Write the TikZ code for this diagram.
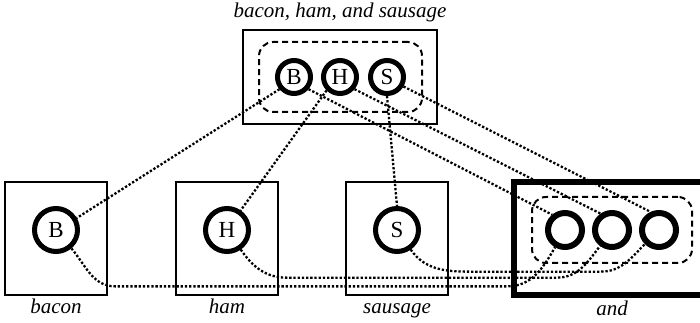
\documentclass[tikz,border=0pt]{standalone}
\usepackage{fontspec}
\setmainfont{Liberation Serif}
\usetikzlibrary{positioning,fit}
\tikzset{
  wordbox/.style ={draw,line width=2pt,inner sep=0pt},
  itembox/.style ={wordbox,minimum width=102pt,minimum height=113pt},
  andbox/.style  ={draw,line width=6pt,inner sep=0pt,minimum width=196pt,minimum height=113pt},
  slot/.style    ={circle,draw,line width=5pt,inner sep=0pt,minimum size=33pt,
                   font=\fontsize{23}{23}\selectfont},
  bigslot/.style ={slot,minimum size=43pt},
  andslot/.style ={slot,line width=6pt,minimum size=34pt},
  group/.style   ={draw,line width=2pt,dash pattern=on 6pt off 4pt,rounded corners=14pt},
  caption/.style ={font=\fontsize{21}{24}\selectfont\itshape,inner sep=3pt,
                   text height=14pt,text depth=5pt},
  link/.style    ={line width=2.3pt,dash pattern=on 2.3pt off 1.9pt}
}

\begin{document}
\begin{tikzpicture}[x=1pt,y=1pt]
  \clip (0,0) rectangle (700,323);
  % the whole phrase
  \node[wordbox,minimum width=194pt,minimum height=94pt] (phrase) at (340,246) {};
  \node[slot] (tH) at (phrase.center) {H};
  \node[slot,left=8pt of tH] (tB) {B};
  \node[slot,right=9pt of tH] (tS) {S};
  \node[group,inner sep=16pt,fit=(tB)(tS)] (tgroup) {};
  \node[caption,above=3pt of phrase] (tlabel) {bacon, ham, and sausage};

  % the single words
  \node[itembox] (bacon) at (56,84.5) {};
  \node[itembox,right=67pt of bacon] (ham) {};
  \node[itembox,right=66pt of ham] (sausage) {};
  \node[andbox,right=62pt of sausage] (andw) {};
  \node[bigslot] (bB) at ([yshift=8.5pt]bacon.center) {B};
  \node[bigslot] (bH) at ([yshift=8.5pt]ham.center) {H};
  \node[bigslot] (bS) at ([yshift=8.5pt]sausage.center) {S};
  \node[andslot] (a2) at ([yshift=8.5pt]andw.center) {};
  \node[andslot,left=7pt of a2] (a1) {};
  \node[andslot,right=7pt of a2] (a3) {};
  \node[group,inner sep=13pt,fit=(a1)(a3)] (agroup) {};
  \node[caption,below=0pt of bacon] (lbacon) {bacon};
  \node[caption,below=0pt of ham] (lham) {ham};
  \node[caption,below=0pt of sausage] (lsausage) {sausage};
  \node[caption,below=0pt of andw] (land) {and};

  % links
  \draw[link] (tB.220) -- (bB.30);
  \draw[link] (tH.225) -- (bH.55);
  \draw[link] (tS.south) -- (bS.north);
  \draw[link] (tB.-40) -- (a1.130);
  \draw[link] (tH.-40) -- (a2.125);
  \draw[link] (tS.-30) -- (a3.115);
  \draw[link] (bB.-50) to[out=-50,in=180] ++(44,-38) -- ++(392,0)
        to[out=0,in=-120] (a1.-120);
  \draw[link] (bH.-55) to[out=-55,in=180] ++(46,-28) -- ++(270,0)
        to[out=0,in=-127] (a2.-127);
  \draw[link] (bS.-55) to[out=-55,in=180] ++(60,-22) -- ++(130,0)
        to[out=0,in=-135] (a3.-135);
\end{tikzpicture}
\end{document}
